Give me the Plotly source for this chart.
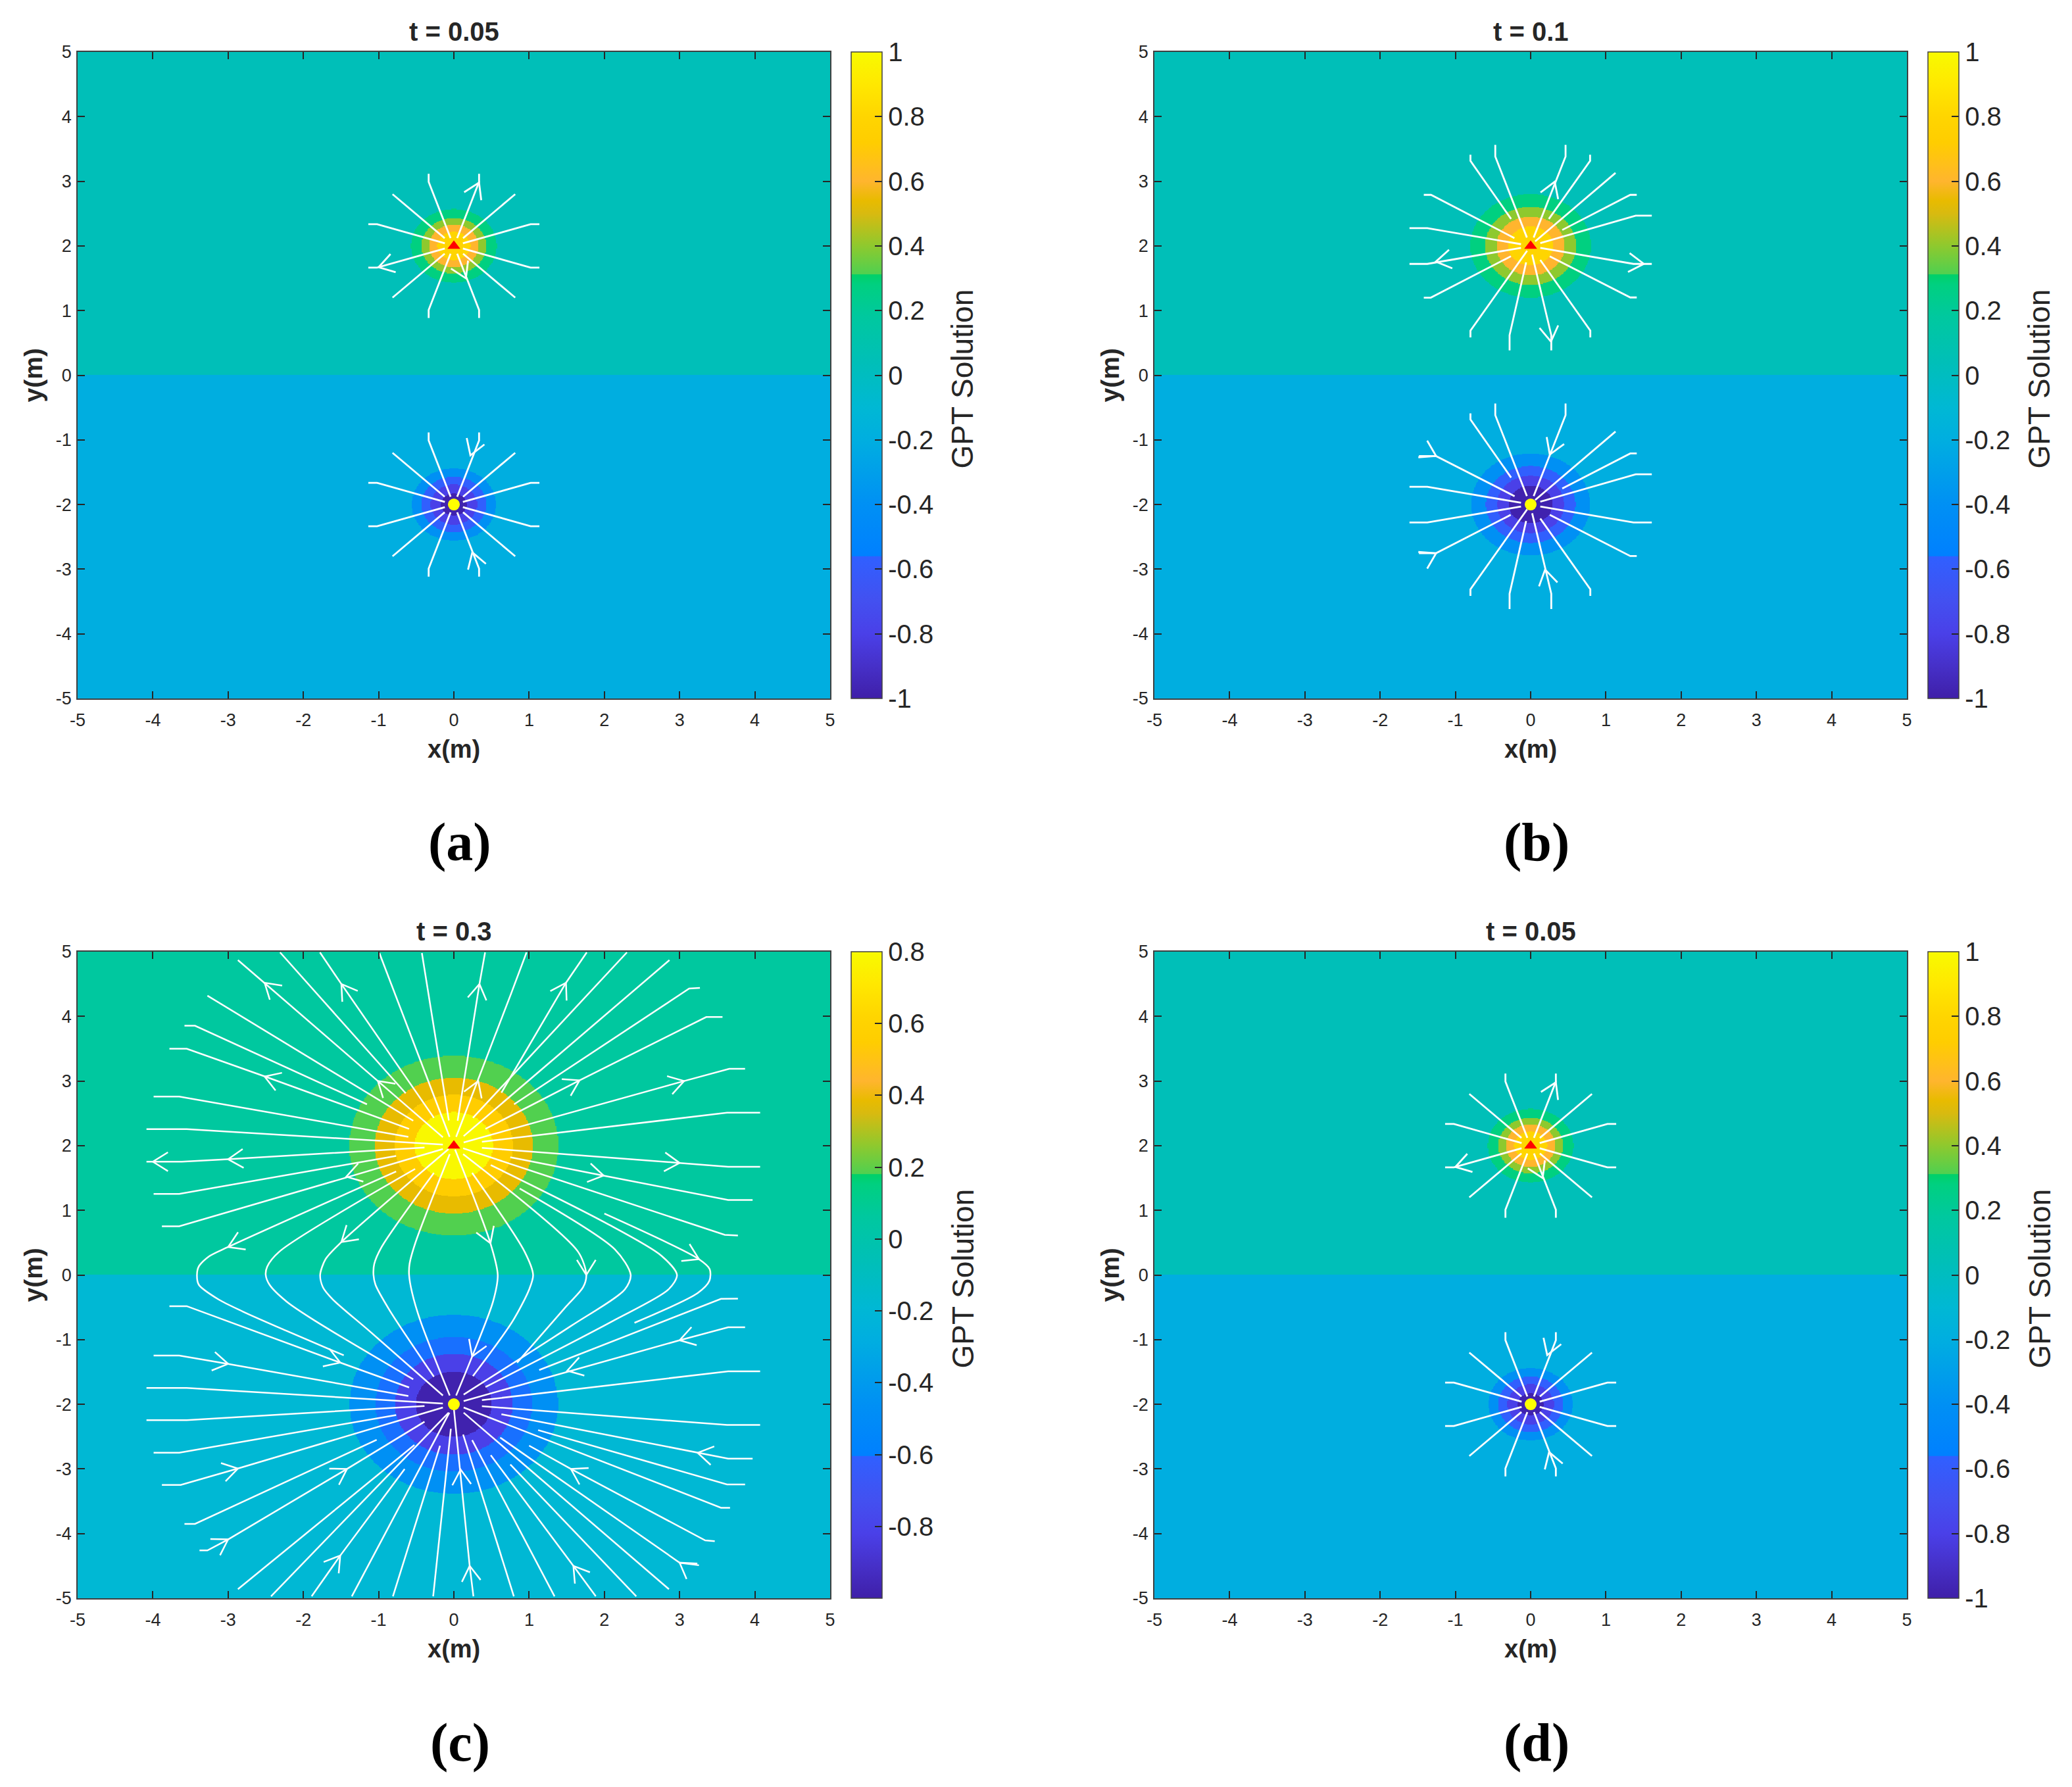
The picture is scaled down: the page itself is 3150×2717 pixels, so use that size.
import numpy as np
import plotly.graph_objects as go

W = 3150
H = 2717
FONT = "Liberation Sans"
INK = "#262626"

# -------- data --------
titles = ["t = 0.05", "t = 0.1", "t = 0.3", "t = 0.05"]
captions = ["(a)", "(b)", "(c)", "(d)"]
axis_ticks = [-5, -4, -3, -2, -1, 0, 1, 2, 3, 4, 5]
axis_labels = ["-5", "-4", "-3", "-2", "-1", "0", "1", "2", "3", "4", "5"]
cbar_ticks = [-1, -0.8, -0.6, -0.4, -0.2, 0, 0.2, 0.4, 0.6, 0.8, 1]
cbar_labels = ["-1", "-0.8", "-0.6", "-0.4", "-0.2", "0", "0.2", "0.4", "0.6", "0.8", "1"]
cbar_ticks_c = [-0.8, -0.6, -0.4, -0.2, 0, 0.2, 0.4, 0.6, 0.8]
cbar_labels_c = ["-0.8", "-0.6", "-0.4", "-0.2", "0", "0.2", "0.4", "0.6", "0.8"]

sources_y = [2, -2]

# field level of each band, outside to inside, and the band's outer radius
bg_a = [0.04, -0.20]
radii_top_a = [0.57, 0.43, 0.33, 0.22]
levels_top_a = [0.28, 0.40, 0.60, 0.80]
radii_bot_a = [0.56, 0.43, 0.31, 0.17]
levels_bot_a = [-0.40, -0.57, -0.80, -0.98]

bg_b = [0.04, -0.20]
radii_top_b = [0.80, 0.605, 0.455, 0.30]
levels_top_b = [0.28, 0.40, 0.60, 0.80]
radii_bot_b = [0.79, 0.595, 0.445, 0.29]
levels_bot_b = [-0.40, -0.57, -0.80, -0.98]

bg_c = [0.062, -0.19]
radii_top_c = [1.39, 1.05, 0.785, 0.52]
levels_top_c = [0.183, 0.386, 0.548, 0.79]
radii_bot_c = [1.385, 1.04, 0.78, 0.505]
levels_bot_c = [-0.46, -0.604, -0.82, -0.982]

colormap = [
    [0.0, "#3f1fa8"], [0.05, "#4630c8"], [0.10, "#4a40e8"], [0.15, "#4350f0"],
    [0.2195, "#3060ff"], [0.2205, "#0080ff"], [0.30, "#0090f4"], [0.40, "#00aee0"],
    [0.45, "#00b8d4"], [0.52, "#00bfb8"], [0.59, "#00c89f"], [0.64, "#00d080"],
    [0.6555, "#00d068"], [0.6565, "#50d050"], [0.70, "#8ec92e"], [0.75, "#d8ba10"],
    [0.77, "#e8bb00"], [0.80, "#ffb52e"], [0.86, "#ffcd00"], [0.90, "#ffd500"], [0.95, "#ffe800"],
    [1.0, "#f8fa00"],
]

# streamlines of panels (a) and (d): offsets from the source, one quadrant
rays_a_x = [[0.044, 0.335, 0.335], [0.122, 0.815], [0.12, 1.02, 1.137]]
rays_a_y = [[0.12, 0.99, 1.115], [0.12, 0.80], [0.04, 0.335, 0.335]]

arrows_a_x = [0.335, -1.0, 0.16, 0.22, 0.245]
arrows_a_y = [2.98, 1.67, 1.50, -1.24, -2.74]
arrows_a_angle = [25, -106, 155, 200, -18]

# streamlines of panel (b): offsets from the source
rays_b_x = [
    [-0.05, -0.47, -0.47], [0.04, 0.464, 0.464], [0.06, 1.128], [0.42, 1.324, 1.41],
    [0.128, 1.396, 1.61], [0.128, 1.367, 1.61], [0.254, 1.324, 1.41], [0.128, 0.793, 0.793],
    [0.02, 0.274, 0.274], [-0.06, -0.28, -0.28], [-0.047, -0.8, -0.8], [-0.128, -1.373, -1.61],
    [-0.128, -1.373, -1.61], [-0.26, -0.8, -0.8],
]
rays_b_y = [
    [0.13, 1.383, 1.563], [0.13, 1.383, 1.563], [0.07, 1.129], [0.247, 0.79, 0.79],
    [0.044, 0.468, 0.468], [-0.03, -0.278, -0.278], [-0.16, -0.797, -0.797], [-0.217, -1.31, -1.414],
    [-0.135, -1.38, -1.617], [-0.254, -1.38, -1.617], [-0.075, -1.31, -1.414], [-0.03, -0.278, -0.278],
    [0.027, 0.275, 0.275], [0.417, 1.315, 1.41],
]
rays_b_top_x = [[-0.216, -1.324, -1.42], [-0.262, -1.327, -1.42], [0.242, 0.79, 0.79]]
rays_b_top_y = [[0.122, 0.79, 0.79], [-0.16, -0.80, -0.80], [0.417, 1.315, 1.41]]
rays_b_bot_x = [[-0.213, -1.257, -1.484], [-0.265, -1.257, -1.484]]
rays_b_bot_y = [[0.129, 0.75, 0.75], [-0.16, -0.753, -0.753]]

arrows_b_x = [0.32, -1.26, 1.504, 0.27, -1.257, -1.257, 0.192, 0.254]
arrows_b_y = [2.993, 1.756, 1.722, 0.52, -1.25, -2.753, -3.007, -1.227]
arrows_b_angle = [21, -100, 95, 172, 118, 62, -12, 202]

# streamlines of panel (c), whole lines in data units
straight_c_x = [
    [-2.87, -2.52, -1.01, -0.146], [-2.31, -0.64], [-1.78, -1.495, -0.265], [-0.99, -0.057], [-0.425, -0.067],
    [-3.275, -0.54], [-3.58, -3.44, -1.155], [-3.78, -3.55, -2.51, -0.595], [-3.99, -3.65, -0.605],
    [-4.085, -3.55, -0.146], [-4.085, -3.615, -3.0, -0.39], [-3.99, -3.65, -0.767], [-3.88, -3.65, -1.43, -0.146],
    [-3.78, -3.55, -1.51, -0.595], [-3.99, -3.65, -3.0, -0.605], [-4.085, -3.55, -0.146], [-4.085, -3.55, -0.39],
    [-3.99, -3.65, -0.767], [-3.88, -3.63, -2.87, -0.146], [-3.38, -3.275, -3.0, -1.42, -0.39],
    [-3.58, -3.44, -1.026], [-2.87, -0.524], [-2.43, -0.07], [-1.89, -1.51, -0.654], [-1.356, -0.06],
    [-0.81, -0.184], [-0.275, -0.04],
    [0.415, 0.34, 0.05], [0.966, 0.76, 0.03], [1.766, 1.49, 0.632], [2.30, 0.253], [2.865, 0.13],
    [3.27, 3.127, 0.80], [3.57, 3.354, 1.67, 0.42], [3.87, 3.66, 3.06, 0.13], [4.07, 3.63, 0.373],
    [4.07, 3.645, 3.0, 0.373], [3.97, 3.645, 1.99, 0.75], [3.775, 3.6, 0.123],
    [3.775, 3.55, 1.134], [3.87, 3.645, 3.0, 0.13], [4.07, 3.645, 0.373], [4.07, 3.63, 0.373],
    [3.97, 3.645, 0.632], [3.87, 3.63, 1.12], [3.67, 3.55, 0.13], [3.467, 3.34, 1.555, 1.0],
    [3.257, 3.0, 0.616], [2.858, 0.13], [2.424, 0.75], [1.886, 1.588, 0.49], [1.338, 0.243],
    [0.797, 0.123], [0.26, 0.21, 0.0],
]
straight_c_y = [
    [4.87, 4.52, 3.0, 2.13], [4.99, 2.81], [4.99, 4.50, 2.43], [4.98, 2.136], [4.98, 2.39],
    [4.32, 2.385], [3.855, 3.855, 2.64], [3.50, 3.50, 3.07, 2.26], [2.76, 2.76, 2.136],
    [2.257, 2.257, 2.016], [1.752, 1.752, 1.79, 1.97], [1.255, 1.255, 1.842], [0.754, 0.754, 1.507, 1.948],
    [-0.482, -0.482, -1.356, -1.74], [-1.247, -1.247, -1.375, -1.872], [-1.748, -1.748, -1.989], [-2.245, -2.245, -2.026],
    [-2.75, -2.75, -2.166], [-3.247, -3.247, -2.994, -2.05], [-4.26, -4.26, -4.09, -3.0, -2.27],
    [-3.85, -3.85, -2.55], [-4.86, -2.63], [-4.97, -2.13], [-4.97, -4.34, -3.0], [-4.97, -2.13],
    [-4.97, -2.64], [-4.97, -2.38],
    [4.99, 4.50, 2.385], [4.99, 4.35, 2.136], [4.99, 4.52, 2.82], [4.99, 2.43], [4.87, 2.148],
    [4.44, 4.43, 2.64], [3.99, 3.99, 3.01, 2.26], [3.19, 3.19, 3.0, 2.05], [2.51, 2.51, 2.06],
    [1.673, 1.673, 1.733, 1.967], [1.16, 1.16, 1.537, 1.82], [0.61, 0.62, 1.96],
    [-0.365, -0.37, -1.47], [-0.81, -0.81, -1.01, -1.95], [-1.49, -1.49, -1.936], [-2.32, -2.32, -2.03],
    [-2.84, -2.84, -2.155], [-3.24, -3.24, -2.40], [-3.6, -3.6, -2.05], [-4.117, -4.105, -3.0, -2.64],
    [-4.49, -4.45, -2.516], [-4.86, -2.13], [-4.97, -2.93], [-4.97, -4.5, -2.787], [-4.97, -2.554],
    [-4.97, -2.467], [-4.97, -4.5, -2.07],
]
folded_c_x = [
    [-0.767, -3.0, -3.26, -3.39, -3.414, -3.39, -3.13, -2.806, -2.22, -1.463],
    [-0.515, -2.32, -2.48, -2.5, -2.45, -2.22, -1.835, -0.54],
    [-0.07, -1.495, -1.705, -1.777, -1.74, -1.61, -1.123, -0.146],
    [-0.265, -0.96, -1.058, -1.068, -1.042, -0.864, -0.265],
    [-0.055, -0.508, -0.589, -0.595, -0.557, -0.443, -0.055],
    [2.0, 3.257, 3.40, 3.396, 3.24, 2.40],
    [0.49, 2.01, 2.755, 2.965, 2.85, 2.106, 0.42],
    [0.875, 2.14, 2.35, 2.27, 1.555, 0.13],
    [0.123, 1.65, 1.76, 1.717, 1.49, 0.84],
    [0.243, 0.94, 1.053, 1.0, 0.78, 0.253],
    [0.016, 0.486, 0.583, 0.52, 0.243, 0.03],
]
folded_c_y = [
    [1.60, 0.433, 0.283, 0.13, 0.0, -0.15, -0.377, -0.565, -0.866, -1.243],
    [1.64, 0.36, 0.13, 0.0, -0.15, -0.414, -0.716, -1.613],
    [1.948, 0.509, 0.245, 0.0, -0.19, -0.377, -0.866, -1.864],
    [1.58, 0.433, 0.17, 0.0, -0.15, -0.527, -1.575],
    [1.87, 0.509, 0.17, 0.0, -0.264, -0.716, -1.864],
    [0.95, 0.245, 0.09, -0.09, -0.28, -0.74],
    [1.70, 0.81, 0.30, 0.0, -0.226, -0.716, -1.733],
    [1.337, 0.396, 0.0, -0.226, -0.79, -1.85],
    [1.87, 0.36, 0.0, -0.19, -0.49, -1.357],
    [1.58, 0.36, 0.0, -0.226, -0.716, -1.564],
    [1.94, 0.49, 0.0, -0.414, -1.26, -1.864],
]
arrows_c_x = [
    -2.515, -1.495, -1.01, -2.515, -4.0, -3.0, -1.43, -3.0, -1.495,
    0.34, 1.49, 0.324, 1.67, 3.06, 3.0, 1.99, 0.486, 3.257, 1.76,
    -1.51, -3.0, -2.87, -1.42, -3.0, -1.51,
    0.243, 3.0, 1.507, 3.24, 1.555, 3.0, 1.588, 0.21, 0.09,
]
arrows_c_y = [
    4.52, 4.50, 3.0, 3.07, 1.752, 1.79, 1.52, 0.433, 0.509,
    4.50, 4.52, 3.0, 3.01, 3.0, 1.733, 1.537, 0.49, 0.245, 0.0,
    -1.356, -1.375, -2.994, -3.0, -4.09, -4.34,
    -1.26, -1.01, -1.48, -2.75, -3.0, -4.45, -4.5, -4.5, -3.01,
]
arrows_c_angle = [
    -49, -35, -49, -70, -90, -93, -106, -114, -131,
    9, 30, 21, 62, 74, 94, 101, 159, 116, 180,
    110, 100, 76, 59, 59, 37,
    202, -106, -106, -79, -61, -55, -37, -6, -4,
]

# -------- pixel layout of the four panels --------
panel_left = [118, 1755, 118, 1755]
panel_top = [79, 79, 1447, 1447]
PANEL_W = 1144
PANEL_H = 983
CBAR_GAP = 32
CBAR_W = 47
WING = 27
WING_SPREAD = 32


def gaps(lines_x, lines_y, dy=0.0):
    xs, ys = [], []
    for lx, ly in zip(lines_x, lines_y):
        xs += list(lx) + [None]
        ys += [v + dy for v in ly] + [None]
    return xs, ys


def quadrants(lines_x, lines_y):
    out_x, out_y = [], []
    for sx in (1, -1):
        for sy in (1, -1):
            for lx, ly in zip(lines_x, lines_y):
                out_x.append([sx * v for v in lx])
                out_y.append([sy * v for v in ly])
    return out_x, out_y


def chevrons(tip_x, tip_y, angle):
    # matlab style open arrow head, wings trailing back from the tip
    ux = WING / (PANEL_W / 10)
    uy = WING / (PANEL_H / 10)
    xs, ys = [], []
    for x, y, a in zip(tip_x, tip_y, angle):
        w1 = np.radians(a + 180 - WING_SPREAD)
        w2 = np.radians(a + 180 + WING_SPREAD)
        xs += [x + ux * np.sin(w1), x, x + ux * np.sin(w2), None]
        ys += [y + uy * np.cos(w1), y, y + uy * np.cos(w2), None]
    return xs, ys


def field(bg, radii_top, levels_top, radii_bot, levels_bot):
    step = 0.0125
    cx = np.arange(-5 + step / 2, 5, step, dtype=np.float32)
    cy = np.arange(-5 + step / 2, 5, step, dtype=np.float32)
    gx, gy = np.meshgrid(cx, cy)
    z = np.where(gy > 0, bg[0], bg[1]).astype(np.float32)
    for rr, lev, sy in ((radii_top, levels_top, 2), (radii_bot, levels_bot, -2)):
        d = np.hypot(gx, gy - sy)
        for r, v in zip(rr, lev):
            z[d <= r] = v
    return cx, cy, z


qa_x, qa_y = quadrants(rays_a_x, rays_a_y)
ax_top, ay_top = gaps(qa_x, qa_y, 2)
ax_bot, ay_bot = gaps(qa_x, qa_y, -2)
lines_a_x = ax_top + ax_bot
lines_a_y = ay_top + ay_bot

bx_top, by_top = gaps(rays_b_x + rays_b_top_x, rays_b_y + rays_b_top_y, 2)
bx_bot, by_bot = gaps(rays_b_x + rays_b_bot_x, rays_b_y + rays_b_bot_y, -2)
lines_b_x = bx_top + bx_bot
lines_b_y = by_top + by_bot

lines_c_x, lines_c_y = gaps(straight_c_x, straight_c_y)
fold_c_x, fold_c_y = gaps(folded_c_x, folded_c_y)

panels = [
    dict(f=(bg_a, radii_top_a, levels_top_a, radii_bot_a, levels_bot_a), zr=(-1, 1), t=(cbar_ticks, cbar_labels),
         lx=lines_a_x, ly=lines_a_y, ax=arrows_a_x, ay=arrows_a_y, aa=arrows_a_angle, lw=2.8),
    dict(f=(bg_b, radii_top_b, levels_top_b, radii_bot_b, levels_bot_b), zr=(-1, 1), t=(cbar_ticks, cbar_labels),
         lx=lines_b_x, ly=lines_b_y, ax=arrows_b_x, ay=arrows_b_y, aa=arrows_b_angle, lw=2.8),
    dict(f=(bg_c, radii_top_c, levels_top_c, radii_bot_c, levels_bot_c), zr=(-1, 0.8), t=(cbar_ticks_c, cbar_labels_c),
         lx=lines_c_x, ly=lines_c_y, ax=arrows_c_x, ay=arrows_c_y, aa=arrows_c_angle, lw=2.5),
    dict(f=(bg_a, radii_top_a, levels_top_a, radii_bot_a, levels_bot_a), zr=(-1, 1), t=(cbar_ticks, cbar_labels),
         lx=lines_a_x, ly=lines_a_y, ax=arrows_a_x, ay=arrows_a_y, aa=arrows_a_angle, lw=2.8),
]

fig = go.Figure()
annotations = []
layout_axes = {}

for i, p in enumerate(panels):
    n = "" if i == 0 else str(i + 1)
    xa, ya = "x" + n, "y" + n
    left, top = panel_left[i], panel_top[i]
    dom_x = [left / W, (left + PANEL_W) / W]
    dom_y = [1 - (top + PANEL_H) / H, 1 - top / H]
    cx, cy, z = field(*p["f"])

    fig.add_trace(go.Heatmap(
        x=cx, y=cy, z=z, xaxis=xa, yaxis=ya, zmin=p["zr"][0], zmax=p["zr"][1],
        colorscale=colormap, hoverinfo="skip",
        colorbar=dict(
            x=(left + PANEL_W + CBAR_GAP) / W, xanchor="left", xpad=0,
            y=dom_y[0], yanchor="bottom", ypad=0, len=PANEL_H / H, lenmode="fraction",
            thickness=CBAR_W, thicknessmode="pixels",
            tickvals=p["t"][0], ticktext=p["t"][1], ticks="inside", ticklen=11,
            tickwidth=1.5, tickcolor=INK, outlinecolor="#404040", outlinewidth=1.5,
            tickfont=dict(family=FONT, size=40, color=INK),
        ),
    ))
    fig.add_trace(go.Scatter(
        x=p["lx"], y=p["ly"], xaxis=xa, yaxis=ya, mode="lines",
        line=dict(color="white", width=p["lw"]), hoverinfo="skip", showlegend=False,
    ))
    if i == 2:
        fig.add_trace(go.Scatter(
            x=fold_c_x, y=fold_c_y, xaxis=xa, yaxis=ya, mode="lines",
            line=dict(color="white", width=p["lw"], shape="spline", smoothing=0.8),
            hoverinfo="skip", showlegend=False,
        ))
    hx, hy = chevrons(p["ax"], p["ay"], p["aa"])
    fig.add_trace(go.Scatter(
        x=hx, y=hy, xaxis=xa, yaxis=ya, mode="lines",
        line=dict(color="white", width=p["lw"]), hoverinfo="skip", showlegend=False,
    ))
    fig.add_trace(go.Scatter(
        x=[0], y=[sources_y[0]], xaxis=xa, yaxis=ya, mode="markers",
        marker=dict(symbol="triangle-up", size=17, color="#ff0000"), hoverinfo="skip", showlegend=False,
    ))
    fig.add_trace(go.Scatter(
        x=[0], y=[sources_y[1]], xaxis=xa, yaxis=ya, mode="markers",
        marker=dict(symbol="circle", size=18, color="#ffff00"), hoverinfo="skip", showlegend=False,
    ))

    common = dict(
        range=[-5, 5], tickvals=axis_ticks, ticktext=axis_labels, ticks="inside", ticklen=11,
        tickwidth=1.5, tickcolor=INK, showgrid=False, zeroline=False, showline=True,
        linecolor="#404040", linewidth=1.5, mirror="ticks",
        tickfont=dict(family=FONT, size=27, color=INK),
    )
    layout_axes["xaxis" + n] = dict(common, domain=dom_x, anchor=ya, ticklabelstandoff=8)
    layout_axes["yaxis" + n] = dict(common, domain=dom_y, anchor=xa, ticklabelstandoff=2)

    mid_x = left + PANEL_W / 2
    annotations += [
        dict(text="<b>%s</b>" % titles[i], x=mid_x / W, y=1 - (top - 31) / H, font=dict(size=40)),
        dict(text="<b>x(m)</b>", x=mid_x / W, y=1 - (top + PANEL_H + 77) / H, font=dict(size=38)),
        dict(text="<b>y(m)</b>", x=(left - 68) / W, y=1 - (top + PANEL_H / 2) / H, font=dict(size=39), textangle=-90),
        dict(text="GPT Solution", x=(left + PANEL_W + 201) / W, y=1 - (top + PANEL_H / 2 + 6) / H,
             font=dict(size=46), textangle=-90),
        dict(text="<b>%s</b>" % captions[i], x=(left + 581) / W, y=1 - (top + PANEL_H + 219) / H,
             font=dict(size=82, family="Liberation Serif", color="black")),
    ]

for a in annotations:
    a.update(xref="paper", yref="paper", showarrow=False, xanchor="center", yanchor="middle")
    a["font"] = dict(dict(family=FONT, color=INK), **a["font"])

fig.update_layout(
    width=W, height=H, margin=dict(l=0, r=0, t=0, b=0, autoexpand=False),
    paper_bgcolor="white", plot_bgcolor="white",
    showlegend=False, annotations=annotations, **layout_axes,
)
fig.write_html("out.html", config=dict(displayModeBar=False), post_script="document.body.style.margin='0';")
